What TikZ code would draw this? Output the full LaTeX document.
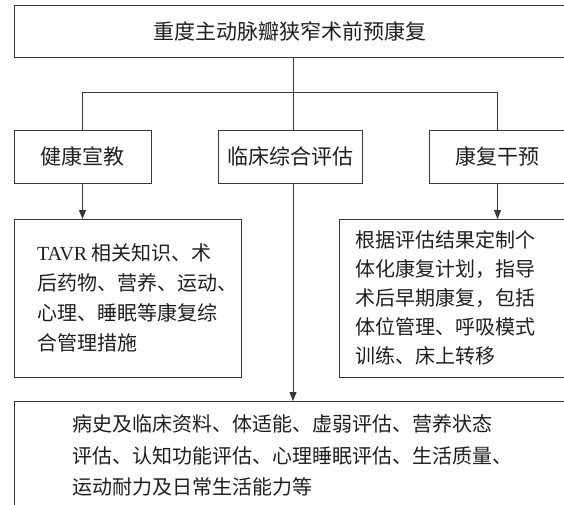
\documentclass[tikz,border=0pt]{standalone}
\usepackage{fontspec}
\setmainfont{Liberation Serif}
\newfontfamily\cjk{Noto Sans CJK SC}
\usetikzlibrary{arrows.meta}
\begin{document}
\begin{tikzpicture}[x=1pt,y=-1pt,
  line/.style={draw=black!78, line width=0.9pt},
  box/.style={line, inner sep=0pt, outer sep=0pt, anchor=north west, text=black!88,
    font=\cjk\fontsize{21}{25}\selectfont},
  body/.style={inner sep=0pt, outer sep=0pt, anchor=north west, align=left, text=black!88},
  arr/.style={line, -{Triangle[width=7pt,length=9pt]}}]
\useasboundingbox (0,0) rectangle (564,504);
\clip (0,0) rectangle (564,504);
% boxes
\node[box, minimum width=552pt, minimum height=52pt] (top) at (14,5) {重度主动脉瓣狭窄术前预康复};
\node[box, minimum width=137pt, minimum height=53pt] (b1) at (14,130) {健康宣教};
\node[box, minimum width=144pt, minimum height=53pt] (b2) at (218,130) {临床综合评估};
\node[box, minimum width=137pt, minimum height=53pt] (b3) at (429,130) {康复干预};
\node[box, minimum width=227pt, minimum height=158pt] (lbox) at (14,219) {};
\node[box, minimum width=260pt, minimum height=158pt] (rbox) at (339,219) {};
\node[box, minimum width=560pt, minimum height=130pt] (bot) at (14,401) {};
% texts
\node[body, font=\cjk\fontsize{20}{30}\selectfont] (ltxt) at (37,244)
  {{\rmfamily TAVR} 相关知识、术\\后药物、营养、运动、\\心理、睡眠等康复综\\合管理措施};
\node[body, font=\cjk\fontsize{20}{28.8}\selectfont] (rtxt) at (355,231)
  {根据评估结果定制个\\体化康复计划，指导\\术后早期康复，包括\\体位管理、呼吸模式\\训练、床上转移};
\node[body, font=\cjk\fontsize{20}{31.5}\selectfont] (btxt) at (72,415)
  {病史及临床资料、体适能、虚弱评估、营养状态\\评估、认知功能评估、心理睡眠评估、生活质量、\\运动耐力及日常生活能力等};
% connectors
\coordinate (j) at (293,92);
\draw[line] (top.south -| j) -- (j);
\draw[line] (b1.north) -- (b1.north |- j) -- (b3.north |- j) -- (b3.north);
\draw[line] (j) -- (b2.north -| j);
\draw[arr] (b1.south) -- (lbox.north -| b1.south);
\draw[arr] (b3.south) -- (rbox.north -| b3.south);
\draw[arr] (b2.south -| j) -- (bot.north -| j);
\end{tikzpicture}
\end{document}
